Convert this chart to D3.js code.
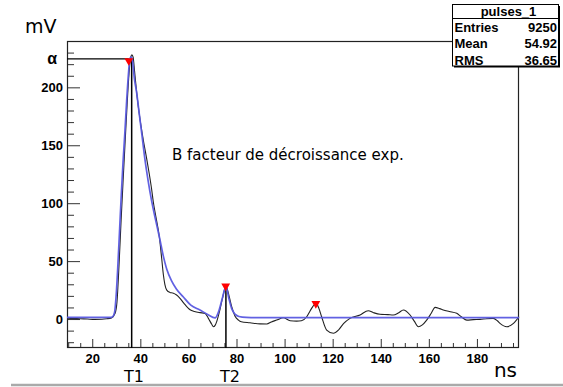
<!DOCTYPE html>
<html><head><meta charset="utf-8">
<script src="https://cdn.jsdelivr.net/npm/d3@7"></script>
<style>
html,body{margin:0;padding:0;background:#fff;}
svg{display:block;}
</style>
</head><body>
<svg id="c" width="563" height="387"></svg>
<script>
// ---- data ----
const signalTime = [9.5,12,15,18,21,24,26,28,29.5,30.3,31.1,32.0,32.8,33.6,34.5,35.3,36.0,36.5,37.0,37.6,38.5,39.9,41.2,42.5,43.5,44.7,45.4,46.5,47.9,48.9,49.6,50.2,51.0,52.3,53.5,55.1,56.5,58.0,60.7,62.5,64.8,66.9,68.3,69.7,70.4,71.1,71.8,73.1,74.4,75.6,76.9,78.0,79.4,80.8,82.0,85.6,89.8,92.6,94.5,96.7,99.5,102.3,105.0,107.0,109.2,110.6,111.8,113.1,114.3,115.4,117.5,120.3,122.4,124.5,127.2,131.4,134.8,137.0,139.7,143.0,145.2,147.5,149.4,152.2,154.0,155.6,157.3,159.1,161.0,162.6,164.5,166.0,168.5,171.6,173.5,175.8,178.5,181.3,184.0,186.8,188.5,189.6,192.4,195.2,197.5];
const signalMv = [0.8,0.5,0.3,0.0,-0.3,-0.2,0.2,1.0,5,15,45,85,118,150,185,212,226,228,226,214,195,172,155,140,128,112,101,88,71,52,38,30,25,23,22.5,20.7,17.9,14,8,6.5,5.5,4.9,0.6,-4.5,-6.6,-5.5,-2,8,20,28.5,20,10.6,2.5,-0.9,-2.3,-3.2,-4.2,-4.3,-2.5,-0.9,1.1,-1.5,-1.8,-1.5,2,7,11,13.5,9,2,-9.5,-12.3,-9.5,-4,0.6,3.5,7.2,5.5,4.1,3.8,3.5,5.5,7.8,3.5,-2,-6.6,-5,-0.9,5,10.1,9,7.8,6.5,4.9,2,-0.9,-0.5,-0.3,0.3,0.6,-1.5,-3.7,-6.6,-3.7,2];

const fitTime = [9.5,28.0,28.5,29.3,30.0,30.7,31.4,32.1,32.8,33.6,34.3,35.0,35.7,36.2,36.8,37.5,38.5,39.5,40.6,41.9,43.2,44.7,46.3,47.9,49.5,51.0,53.0,55.0,57.9,61.0,64.8,68.0,71.1,72.5,74.0,75.6,76.8,78.0,79.5,81.0,84.0,90.0,197.5];
const fitMv = [1.5,1.5,2,6,22,48,78,108,135,162,188,210,225,226,222,208,195,178,160,138,120,102,86,71,55,43,33,26,19,12,7.8,4,1,6,17,28,18,9,4,2.2,1.4,1.2,1.2];

const peakTime = [35.2, 75.5, 113.0];
const peakMv = [223, 28.5, 13.4];

const xMajorTicks = [20,40,60,80,100,120,140,160,180];
const yMajorTicks = [0,50,100,150,200];
const alphaValue = 224.5;
const t1Time = 36.4, t2Time = 75.6, t2Mv = 28;

const statsTitle = "pulses_1";
const statsLabels = ["Entries","Mean","RMS"];
const statsValues = ["9250","54.92","36.65"];

// ---- drawing ----
const svg = d3.select("#c");
const L=67,R=519,T=41,B=348;
const x = d3.scaleLinear().domain([9.5,197.5]).range([L,R]);
const y = d3.scaleLinear().domain([-25,240]).range([B,T]);

const xMinor = d3.range(10,198,5).filter(v=>!xMajorTicks.includes(v));
const yMinor = d3.range(-20,241,10).filter(v=>!yMajorTicks.includes(v));

const tickFont = "'Liberation Sans', Arial, sans-serif";

// axes
const gy = svg.append("g").attr("transform",`translate(${L},0)`)
  .call(d3.axisLeft(y).tickValues(yMajorTicks).tickSize(-13).tickPadding(4).tickFormat(d3.format("d")));
const gyMin = svg.append("g").attr("transform",`translate(${L},0)`)
  .call(d3.axisLeft(y).tickValues(yMinor).tickSize(-7).tickFormat(""));
const gx = svg.append("g").attr("transform",`translate(0,${B})`)
  .call(d3.axisBottom(x).tickValues(xMajorTicks).tickSize(-9).tickPadding(4).tickFormat(d3.format("d")));
const gxMin = svg.append("g").attr("transform",`translate(0,${B})`)
  .call(d3.axisBottom(x).tickValues(xMinor).tickSize(-5).tickFormat(""));
[gy,gyMin,gx,gxMin].forEach(g=>{
  g.select(".domain").remove();
  g.selectAll("line").attr("stroke","#333").attr("stroke-width",1);
  g.selectAll("text").attr("font-family",tickFont).attr("font-weight","bold").attr("font-size","13px").attr("fill","#000");
});
gx.selectAll("text").attr("dy","0.82em");

// frame
svg.append("rect").attr("x",L+0.5).attr("y",T+0.5).attr("width",R-L-1).attr("height",B-T-1)
  .attr("fill","none").attr("stroke","#222").attr("stroke-width",1.2);

// alpha line
svg.append("line").attr("x1",L).attr("x2",x(peakTime[0])).attr("y1",y(alphaValue)).attr("y2",y(alphaValue))
  .attr("stroke","#000").attr("stroke-width",1.3);
// T1/T2 vertical lines
svg.append("line").attr("x1",x(t1Time)).attr("x2",x(t1Time)).attr("y1",y(alphaValue)).attr("y2",B)
  .attr("stroke","#000").attr("stroke-width",1.5);
svg.append("line").attr("x1",x(t2Time)).attr("x2",x(t2Time)).attr("y1",y(t2Mv)).attr("y2",B)
  .attr("stroke","#000").attr("stroke-width",1.5);

// signal
const sig = signalTime.map((t,i)=>[t,signalMv[i]]);
const fit = fitTime.map((t,i)=>[t,fitMv[i]]);
const line = d3.line().x(d=>x(d[0])).y(d=>y(d[1])).curve(d3.curveMonotoneX);
svg.append("path").attr("d",line(sig)).attr("fill","none").attr("stroke","#222").attr("stroke-width",1.1);
svg.append("path").attr("d",line(fit)).attr("fill","none").attr("stroke","#5858e0").attr("stroke-width",1.7).attr("stroke-opacity",0.95);

// peak markers
const tri = d3.symbol().type(d3.symbolTriangle).size(34);
svg.selectAll(".pk").data(peakTime.map((t,i)=>[t,peakMv[i]])).enter().append("path")
  .attr("d",tri).attr("fill","#ff0000")
  .attr("transform",d=>`translate(${x(d[0])},${y(d[1])}) rotate(180)`);

// texts
const lblFont = "'DejaVu Sans', sans-serif";
svg.append("text").attr("x",25).attr("y",33).attr("font-family",lblFont).attr("font-size","19px").text("mV");
svg.append("text").attr("x",517).attr("y",377).attr("text-anchor","end").attr("font-family",lblFont).attr("font-size","20px").text("ns");
svg.append("text").attr("x",57).attr("y",y(alphaValue)).attr("dy","0.3em").attr("text-anchor","end")
  .attr("font-family",tickFont).attr("font-size","16px").attr("font-weight","bold").text("α");
svg.append("text").attr("x",134).attr("y",382).attr("text-anchor","middle").attr("font-family",lblFont).attr("font-size","16px").text("T1");
svg.append("text").attr("x",230).attr("y",382).attr("text-anchor","middle").attr("font-family",lblFont).attr("font-size","16px").text("T2");
svg.append("text").attr("x",172).attr("y",159.5).attr("font-family",lblFont).attr("font-size","15px").text("B facteur de décroissance exp.");

// stats box
const bx=452.5,by=4.5,bw=106,bh=61.5;
svg.append("rect").attr("x",bx+1.5).attr("y",by+1.5).attr("width",bw).attr("height",bh).attr("fill","#000");
svg.append("rect").attr("x",bx).attr("y",by).attr("width",bw).attr("height",bh).attr("fill","#fff").attr("stroke","#000").attr("stroke-width",1);
svg.append("line").attr("x1",bx).attr("x2",bx+bw).attr("y1",18.5).attr("y2",18.5).attr("stroke","#000");
svg.append("text").attr("x",bx+bw/2+3).attr("y",16).attr("text-anchor","middle").attr("font-family",tickFont).attr("font-weight","bold").attr("font-size","13px").text(statsTitle);
statsLabels.forEach((s,i)=>{
  svg.append("text").attr("x",454.5).attr("y",32+i*16.3).attr("font-family",tickFont).attr("font-weight","bold").attr("font-size","13px").text(s);
  svg.append("text").attr("x",557).attr("y",32+i*16.3).attr("text-anchor","end").attr("font-family",tickFont).attr("font-weight","bold").attr("font-size","13px").text(statsValues[i]);
});

// bottom grey rule
svg.append("line").attr("x1",11).attr("x2",563).attr("y1",385).attr("y2",385).attr("stroke","#aaa").attr("stroke-width",2.5);
</script>
</body></html>
